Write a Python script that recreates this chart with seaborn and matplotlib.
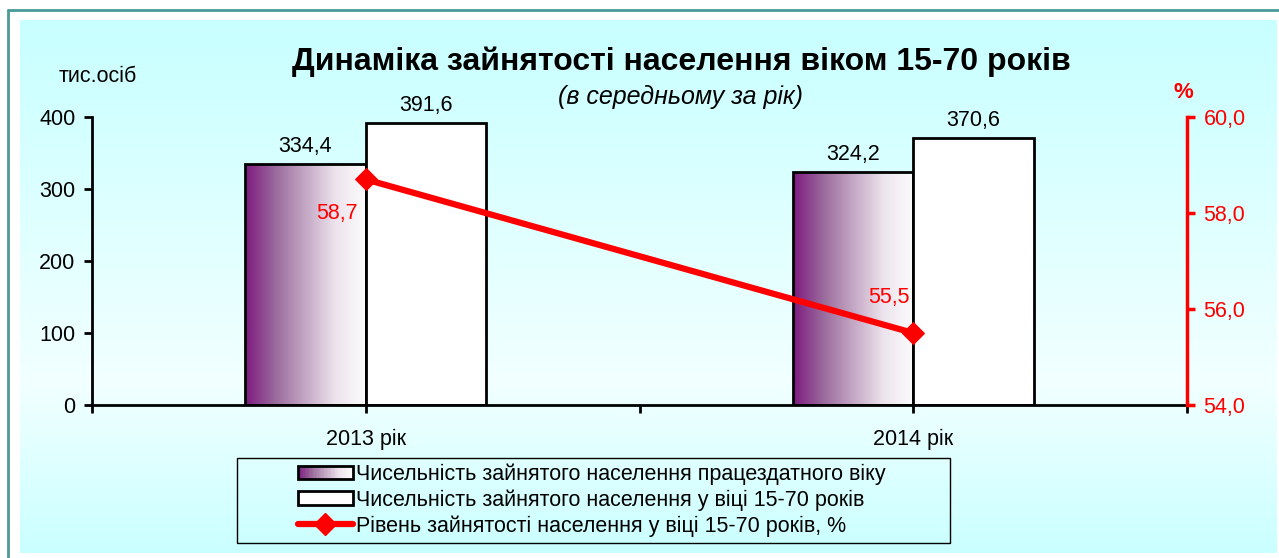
import numpy as np
import pandas as pd
import matplotlib
matplotlib.use("Agg")
import matplotlib.pyplot as plt
import seaborn as sns
from matplotlib.colors import LinearSegmentedColormap
from matplotlib.patches import Rectangle
from matplotlib.lines import Line2D
from matplotlib.legend_handler import HandlerBase

# ---- data ----
years = ["2013 рік", "2014 рік"]
working_age = [334.4, 324.2]
age_15_70 = [391.6, 370.6]
rate = [58.7, 55.5]
series_names = ["Чисельність зайнятого населення працездатного віку",
                "Чисельність зайнятого населення у віці 15-70 років"]
rate_name = "Рівень зайнятості населення у віці 15-70 років, %"
left_ticks = [0, 100, 200, 300, 400]
right_ticks = [54.0, 56.0, 58.0, 60.0]

def fmt(v):
    return f"{v:.1f}".replace(".", ",")

sns.set_style("white")
plt.rcParams['font.family'] = ['Liberation Sans', 'DejaVu Sans']
plt.rcParams['text.color'] = 'black'
plt.rcParams['axes.labelcolor'] = 'black'
plt.rcParams['xtick.color'] = 'black'
plt.rcParams['ytick.color'] = 'black'

FS = 15.5
W, H = 1279, 558
fig = plt.figure(figsize=(W / 100, H / 100), dpi=100)
fig.patch.set_facecolor("white")

# ---- background panel ----
bg = fig.add_axes([0, 0, 1, 1], zorder=-10)
bg.set_xlim(0, W)
bg.set_ylim(H, 0)
bg.axis("off")
ys = np.linspace(0, 1, 300)
stops_y = [0.0, 0.68, 1.0]
c_top = np.array([0xC8, 0xFF, 0xFF]) / 255
c_mid = np.array([0xF2, 0xFF, 0xFF]) / 255
c_bot = np.array([0xCA, 0xFF, 0xFF]) / 255
cols = np.array([np.interp(ys, stops_y, [c_top[i], c_mid[i], c_bot[i]]) for i in range(3)]).T
bg.imshow(cols[:, None, :], extent=[20, 1277, 553, 20], aspect="auto", interpolation="bilinear")
bg.add_line(Line2D([8, W], [10, 10], color="#4A9A9A", lw=2))
bg.add_line(Line2D([8, 8], [10, H], color="#4A9A9A", lw=2))
# legend box frame
bg.add_patch(Rectangle((237, 458), 950 - 237, 543 - 458, facecolor="none",
                       edgecolor="black", lw=1))

# ---- main axes ----
ax = fig.add_axes([92 / W, 1 - 405 / H, (1187 - 92) / W, (405 - 117) / H])
ax.patch.set_visible(False)

df = pd.DataFrame({
    "year": years * 2,
    "value": working_age + age_15_70,
    "series": [series_names[0]] * 2 + [series_names[1]] * 2,
})
sns.barplot(data=df, x="year", y="value", hue="series", hue_order=series_names,
            width=0.44, palette=["#FFFFFF", "#FFFFFF"], saturation=1,
            edgecolor="black", linewidth=2, legend=False, ax=ax, zorder=2)

ax.set_xlim(-0.5, 1.5)
ax.set_ylim(0, 400)

purple = "#7E1A80"
grad_cmap = LinearSegmentedColormap.from_list(
    "pg", [(0, purple), (0.25, "#9A6A9C"), (0.5, "#C4A8C5"), (0.75, "#EDE4ED"), (1, "#FCFCFC")])
gradient = np.linspace(0, 1, 256)[None, :]

for p in ax.containers[0]:
    p.set_facecolor("none")
    x0, y0 = p.get_x(), p.get_y()
    w, h = p.get_width(), p.get_height()
    im = ax.imshow(gradient, extent=[x0, x0 + w, y0, y0 + h], aspect="auto",
                   cmap=grad_cmap, zorder=1.9, interpolation="bilinear")
    im.set_clip_path(p)
ax.set_xlim(-0.5, 1.5)
ax.set_ylim(0, 400)
ax.set_aspect("auto")

# bar labels
for cont, vals in zip(ax.containers, [working_age, age_15_70]):
    for p, v in zip(cont, vals):
        ax.annotate(fmt(v), (p.get_x() + p.get_width() / 2, p.get_height()),
                    xytext=(0, 7), textcoords="offset pixels", ha="center", va="bottom",
                    fontsize=FS, color="black")

# axes styling
for s in ["top", "right"]:
    ax.spines[s].set_visible(False)
ax.spines["left"].set_linewidth(2)
ax.spines["bottom"].set_linewidth(2)
ax.spines["left"].set_color("black")
ax.spines["bottom"].set_color("black")
ax.set_yticks(left_ticks)
ax.set_yticklabels([str(t) for t in left_ticks])
ax.set_xticks([-0.5, 0, 0.5, 1, 1.5])
ax.set_xticklabels(["", years[0], "", years[1], ""])
ax.tick_params(axis="y", direction="out", length=6, width=2, color="black",
               labelsize=FS, pad=6, left=True)
ax.tick_params(axis="x", direction="out", length=6, width=2, color="black",
               labelsize=FS, pad=11, bottom=True)
ax.set_xlabel("")
ax.set_ylabel("")

# ---- secondary axis ----
ax2 = ax.twinx()
ax2.set_ylim(54, 60)
sns.lineplot(x=[0, 1], y=rate, ax=ax2, color="#FF0000", lw=4.5, marker="D",
             markersize=11, markeredgecolor="#FF0000", legend=False)
ax2.set_xlim(-0.5, 1.5)
ax2.set_ylim(54, 60)
ax2.set_yticks(right_ticks)
ax2.set_yticklabels([fmt(t) for t in right_ticks])
for s in ["top", "left", "bottom"]:
    ax2.spines[s].set_visible(False)
ax2.spines["right"].set_color("#FF0000")
ax2.spines["right"].set_linewidth(2.5)
ax2.tick_params(axis="y", direction="out", length=6, width=2.5, color="#FF0000",
                labelcolor="#FF0000", labelsize=FS, pad=6, right=True)
ax2.set_ylabel("")

ax2.annotate(fmt(rate[0]), (0, rate[0]), xytext=(-8, -34), textcoords="offset pixels",
             ha="right", va="center", fontsize=FS, color="#FF0000")
ax2.annotate(fmt(rate[1]), (1, rate[1]), xytext=(-4, 36), textcoords="offset pixels",
             ha="right", va="center", fontsize=FS, color="#FF0000")

# ---- titles ----
fig.text(681 / W, 1 - 62 / H, "Динаміка зайнятості населення віком 15-70 років",
         ha="center", va="center", fontsize=23, fontweight="bold", color="black")
fig.text(681 / W, 1 - 97 / H, "(в середньому за рік)", ha="center", va="center",
         fontsize=18, fontstyle="italic", color="black")
fig.text(98 / W, 1 - 76 / H, "тис.осіб", ha="center", va="center", fontsize=FS,
         color="black")
fig.text(1183 / W, 1 - 92 / H, "%", ha="center", va="center", fontsize=16,
         fontweight="bold", color="#FF0000")


# ---- legend ----
class GradientHandler(HandlerBase):
    def create_artists(self, legend, orig_handle, xdescent, ydescent, width, height,
                       fontsize, trans):
        arts = []
        n = 40
        for i in range(n):
            t = (i + 0.5) / n
            r = Rectangle((-xdescent + width * i / n, -ydescent), width / n + 0.3, height,
                          facecolor=grad_cmap(t), edgecolor="none", transform=trans)
            arts.append(r)
        frame = Rectangle((-xdescent, -ydescent), width, height, facecolor="none",
                          edgecolor="black", lw=2, transform=trans)
        arts.append(frame)
        return arts


class WhiteHandler(HandlerBase):
    def create_artists(self, legend, orig_handle, xdescent, ydescent, width, height,
                       fontsize, trans):
        return [Rectangle((-xdescent, -ydescent), width, height, facecolor="white",
                          edgecolor="black", lw=2, transform=trans)]


h_grad = Rectangle((0, 0), 1, 1)
h_white = Rectangle((0, 0), 1, 1, facecolor="white")
h_line = Line2D([0], [0], color="#FF0000", lw=4.5, marker="D", markersize=11)

leg = fig.legend([h_grad, h_white, h_line], series_names + [rate_name],
                 handler_map={h_grad: GradientHandler(), h_white: WhiteHandler()},
                 loc="center left", bbox_to_anchor=(298 / W, 1 - 500 / H),
                 fontsize=FS, frameon=False, handlelength=2.55,
                 handleheight=0.6, handletextpad=0.15, labelspacing=0.2,
                 borderpad=0, borderaxespad=0)

fig.savefig("out.png", dpi=100)
